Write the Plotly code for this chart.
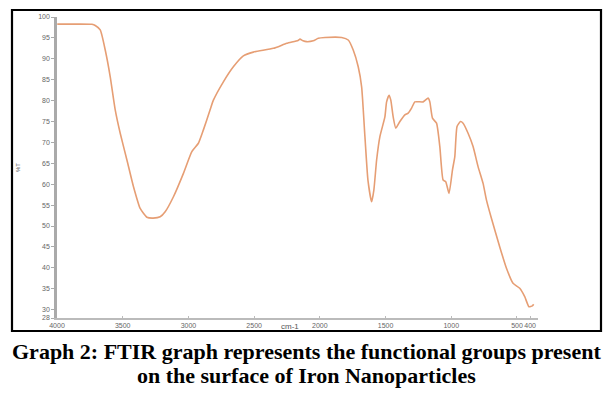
import plotly.graph_objects as go

# Data
wavenumber = [3998, 3861, 3734, 3709, 3671, 3633, 3595, 3557, 3519, 3468, 3418, 3367, 3316, 3268,
              3215, 3177, 3114, 3038, 2974, 2924, 2886, 2835, 2810, 2734, 2658, 2582, 2506, 2354,
              2252, 2166, 2151, 2128, 2100, 2050, 2012, 1961, 1834, 1784, 1746, 1708, 1682, 1657,
              1634, 1606, 1589, 1568, 1543, 1505, 1492, 1473, 1460, 1442, 1422, 1391, 1353, 1328,
              1302, 1277, 1214, 1176, 1163, 1143, 1112, 1087, 1062, 1042, 1017, 991, 973, 956,
              930, 910, 872, 834, 796, 758, 732, 694, 631, 580, 530, 479, 441, 409, 383, 373]
transmittance = [98.3, 98.3, 98.25, 97.97, 96.9, 92.1, 85.7, 77.8, 72.2, 65.8, 59.4, 54.2, 52.1, 51.9,
                 52.2, 53.4, 57.0, 62.6, 67.8, 69.8, 73.0, 77.8, 80.1, 84.5, 88.1, 90.7, 91.6, 92.5,
                 93.7, 94.4, 94.7, 94.3, 94.1, 94.3, 94.9, 95.1, 95.1, 94.5, 92.1, 88.1, 83.3, 71.4,
                 61.0, 55.8, 58.6, 65.8, 71.4, 76.1, 79.7, 81.3, 80.1, 76.1, 73.4, 75.0, 76.6, 77.0,
                 78.2, 79.7, 79.7, 80.6, 79.7, 75.8, 74.6, 69.0, 61.0, 60.6, 57.8, 63.4, 66.6, 73.8,
                 75.0, 74.6, 72.2, 69.0, 64.2, 60.2, 56.2, 51.8, 45.0, 39.9, 36.3, 35.1, 33.1, 30.7,
                 30.9, 31.3]

x_ticks = [4000, 3500, 3000, 2500, 2000, 1500, 1000, 500, 400]
y_ticks = [28, 30, 35, 40, 45, 50, 55, 60, 65, 70, 75, 80, 85, 90, 95, 100]

caption_lines = ["Graph 2: FTIR graph represents the functional groups present",
                 "on the surface of Iron Nanoparticles"]

W, H = 611, 397
L, R, T, B = 57, 538, 17, 318  # plot area in pixels


def px(x):
    return (x - L) / (R - L)


def py(y):
    return (B - y) / (B - T)


fig = go.Figure()
fig.add_trace(go.Scatter(x=wavenumber, y=transmittance, mode="lines",
                         line=dict(color="#E69E74", width=1.6, shape="spline", smoothing=0.5),
                         hoverinfo="skip", showlegend=False))

tickfont = dict(family="Liberation Sans, Arial", size=7, color="#666")
annotations = [
    dict(text="cm-1", xref="paper", yref="paper", x=px(290), y=py(326),
         xanchor="center", yanchor="middle",
         showarrow=False, font=dict(family="Liberation Sans, Arial", size=8, color="#555")),
    dict(text="%T", xref="paper", yref="paper", x=px(18), y=py(168), textangle=-90,
         xanchor="center", yanchor="middle",
         showarrow=False, font=dict(family="Liberation Sans, Arial", size=6, color="#555")),
]
for line_text, ypix in zip(caption_lines, [351, 375]):
    annotations.append(dict(text="<b>" + line_text + "</b>", xref="paper", yref="paper",
                            x=px(306), y=py(ypix), xanchor="center", yanchor="middle",
                            showarrow=False,
                            font=dict(family="Liberation Serif, Times New Roman", size=22,
                                      color="black")))

fig.update_layout(
    width=W, height=H, autosize=False,
    margin=dict(l=L, r=W - R, t=T, b=H - B, pad=0, autoexpand=False),
    paper_bgcolor="white", plot_bgcolor="white",
    xaxis=dict(range=[4000, 340], tickvals=x_ticks, ticktext=[str(v) for v in x_ticks],
               tickangle=0, automargin=False,
               showgrid=False, zeroline=False, showline=True, linecolor="#bbb", linewidth=1.5,
               ticks="inside", ticklen=2, tickcolor="#bbb", tickfont=tickfont),
    yaxis=dict(range=[28, 100], tickvals=y_ticks, ticktext=[str(v) for v in y_ticks],
               automargin=False,
               showgrid=False, zeroline=False, showline=True, linecolor="#aaa", linewidth=2.5,
               ticks="outside", ticklen=3, tickcolor="#aaa", tickfont=tickfont),
    shapes=[dict(type="rect", xref="paper", yref="paper",
                 x0=px(12), x1=px(601), y0=py(331), y1=py(10),
                 line=dict(color="black", width=2.2), fillcolor="rgba(0,0,0,0)")],
    annotations=annotations,
)

fig.write_html("out.html", config={"displayModeBar": False},
               post_script="document.body.style.margin='0';document.body.style.overflow='hidden';")
